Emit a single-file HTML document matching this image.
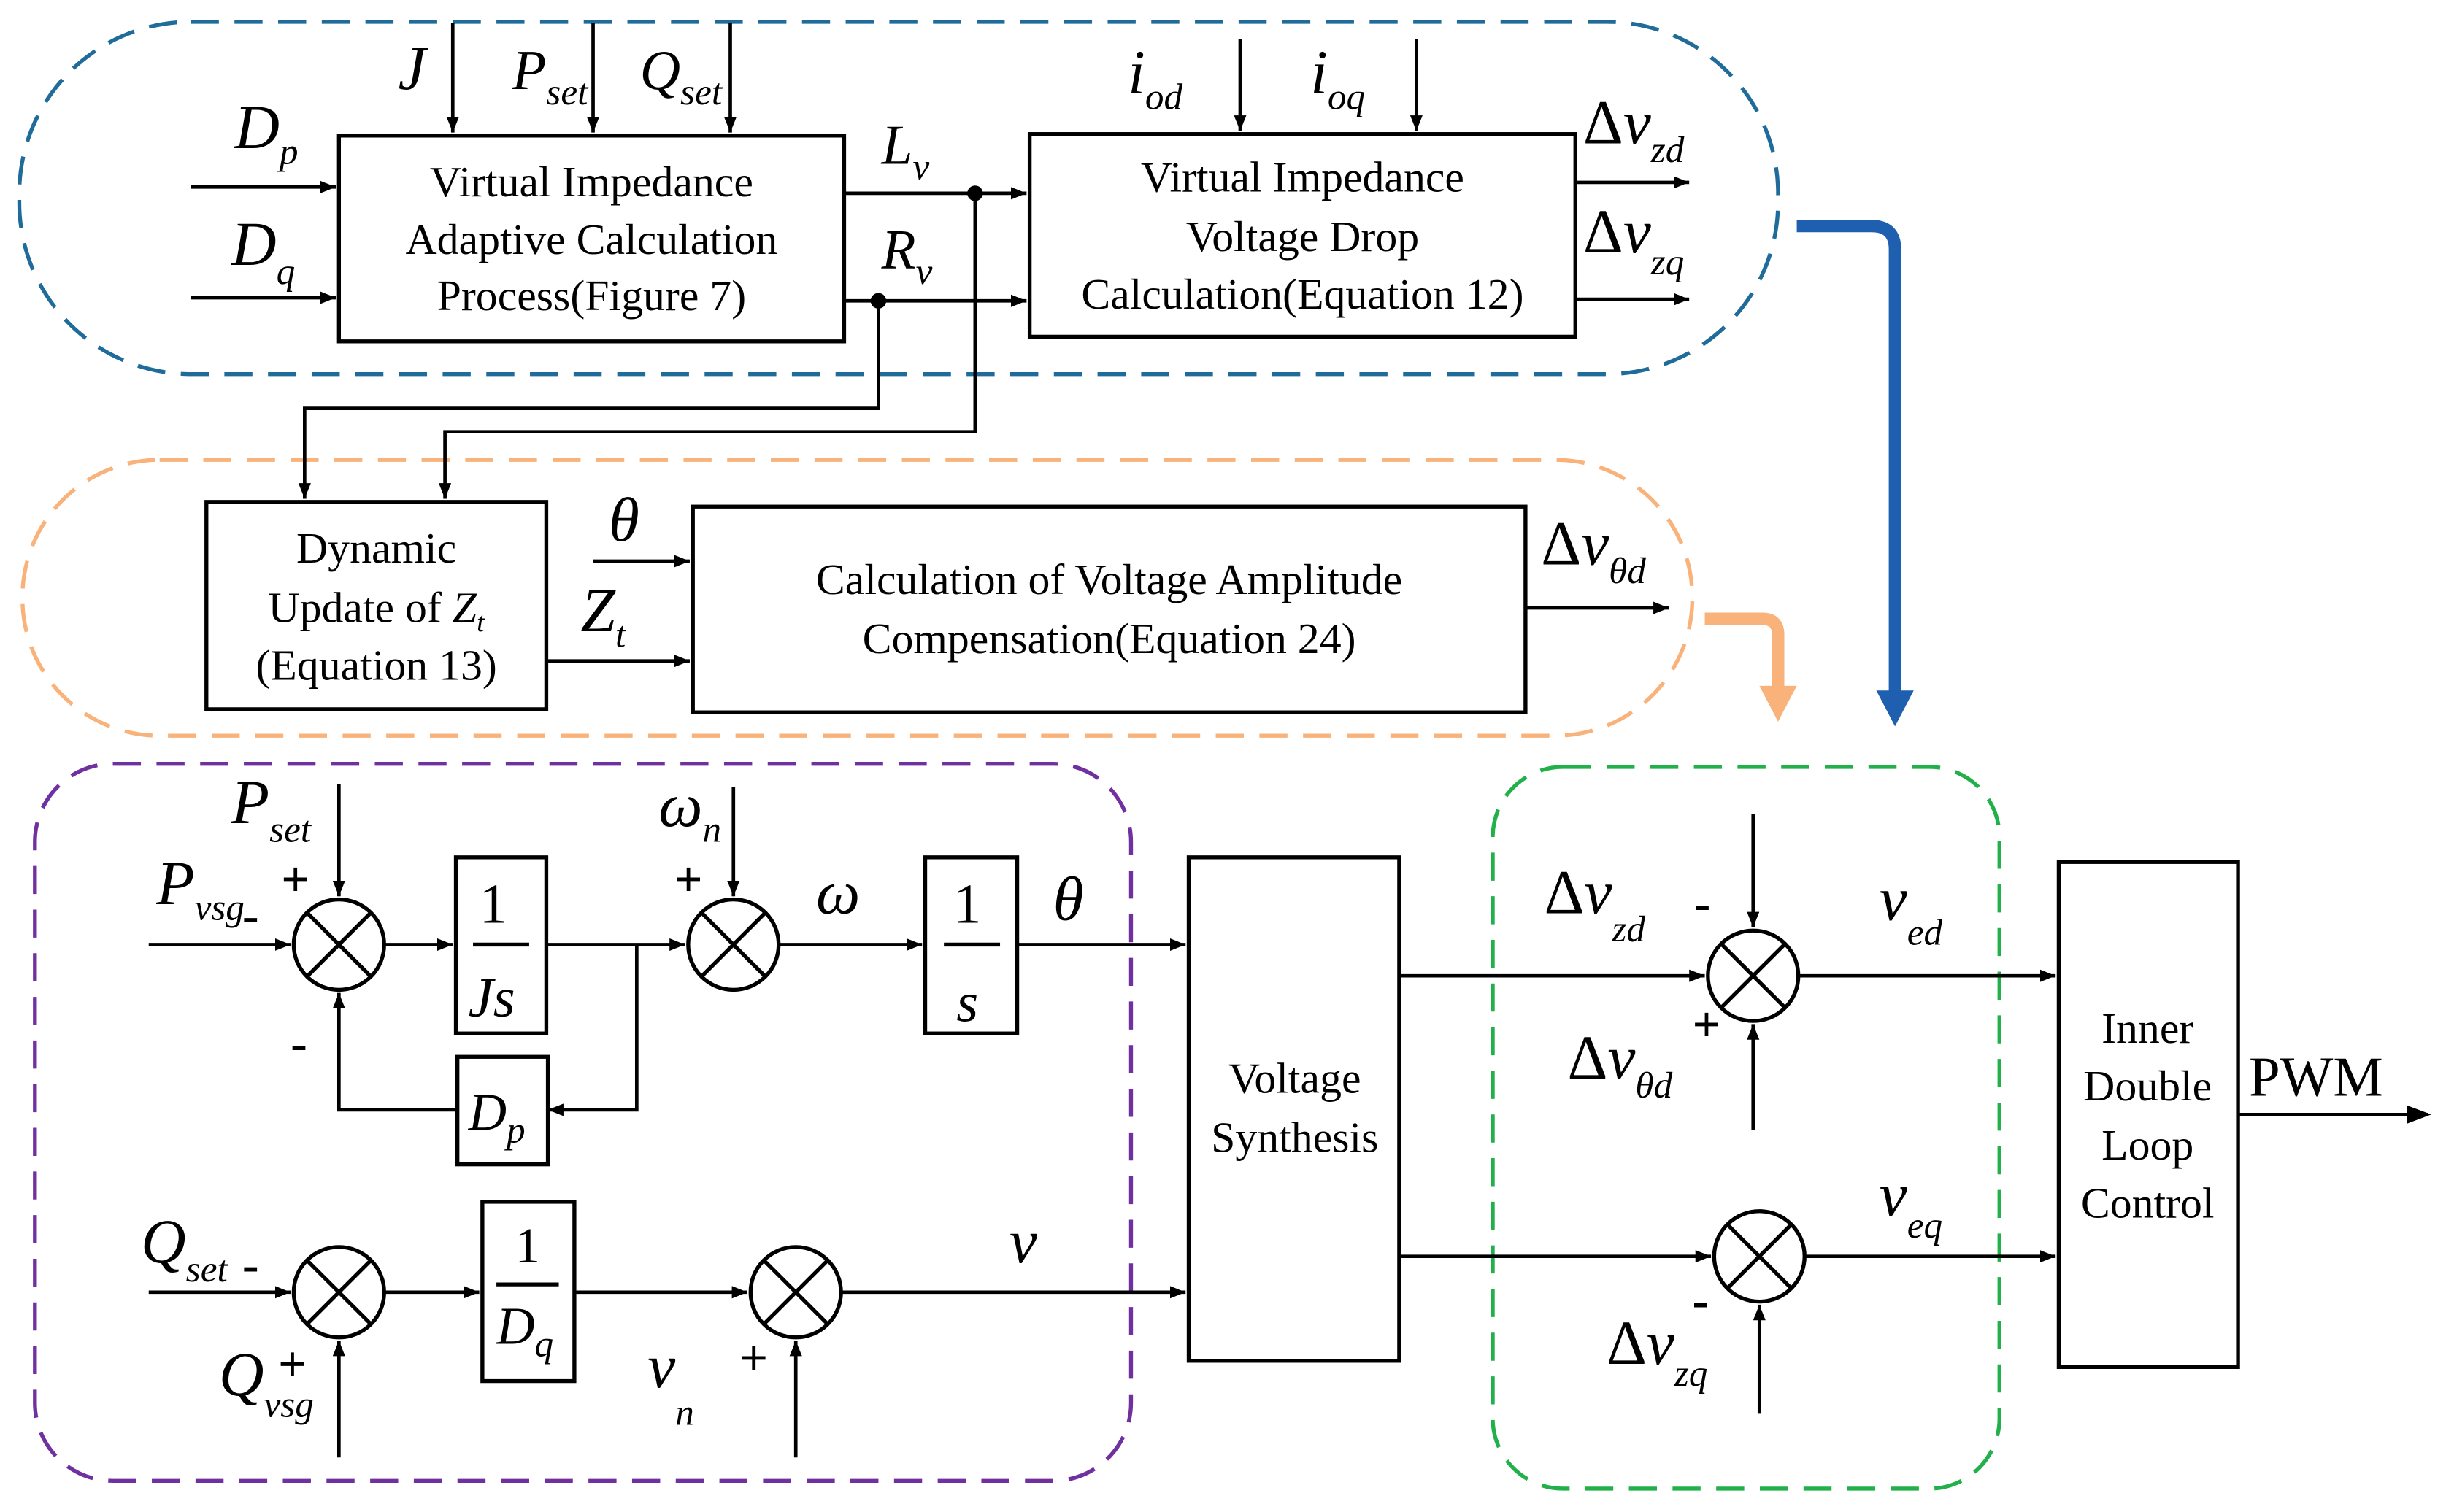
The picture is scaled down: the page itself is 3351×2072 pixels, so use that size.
<!DOCTYPE html>
<html><head><meta charset="utf-8"><style>
html,body{margin:0;padding:0;background:#fff;}
svg{display:block;font-family:"Liberation Serif","DejaVu Serif",serif;}
text,tspan{font-family:"Liberation Serif","DejaVu Serif",serif;fill:#000;}
.b{font-size:28px;}
.m{font-size:40px;font-style:italic;}
.s{font-size:24px;font-style:italic;}
</style></head><body>
<svg width="3351" height="2072" viewBox="0 0 1568 970" xmlns="http://www.w3.org/2000/svg" font-family="Liberation Serif, serif">
<defs>
<marker id="a" markerWidth="10" markerHeight="8" refX="10" refY="4" orient="auto" markerUnits="userSpaceOnUse" viewBox="0 0 10 8"><path d="M0,0 L10,4 L0,8 Z" fill="#000"/></marker>
<marker id="a2" markerWidth="16" markerHeight="12" refX="14" refY="6" orient="auto" markerUnits="userSpaceOnUse" viewBox="0 0 16 12"><path d="M0,0 L16,6 L0,12 Z" fill="#000"/></marker>
</defs>
<g fill="none" stroke-width="2.5" stroke-dasharray="18,10">
<rect x="12" y="14" width="1128" height="226" rx="110" stroke="#1f6b9a"/>
<rect x="14" y="295" width="1071" height="177" rx="88" stroke="#f8b27a"/>
<rect x="22" y="490" width="703" height="460" rx="50" stroke="#7030a0"/>
<rect x="957" y="492" width="325" height="463" rx="45" stroke="#22b04a"/>
</g>
<path d="M1152,145 H1200 Q1215,145 1215,160 V445" fill="none" stroke="#1f5fb0" stroke-width="8"/>
<path d="M1203,443 L1227,443 L1215,466 Z" fill="#1f5fb0"/>
<path d="M1093,397 H1130 Q1140,397 1140,407 V442" fill="none" stroke="#f8b27a" stroke-width="8"/>
<path d="M1128,440 L1152,440 L1140,463 Z" fill="#f8b27a"/>
<g fill="none" stroke="#000" stroke-width="2.5">
<rect x="217" y="87" width="324" height="132"/>
<rect x="660" y="86" width="350" height="130"/>
<rect x="132" y="322" width="218" height="133"/>
<rect x="444" y="325" width="534" height="132"/>
<rect x="292" y="550" width="58" height="113"/>
<rect x="293" y="678" width="58" height="69"/>
<rect x="593" y="550" width="59" height="113"/>
<rect x="309" y="771" width="59" height="115"/>
<rect x="762" y="550" width="135" height="323"/>
<rect x="1320" y="553" width="115" height="324"/>
</g>
<g stroke="#000" stroke-width="2.2" fill="none" marker-end="url(#a)">
<path d="M122,120 H215"/><path d="M122,191 H215"/>
<path d="M290,15 V85"/><path d="M380,15 V85"/><path d="M468,15 V85"/>
<path d="M541,124 H658"/><path d="M541,193 H658"/>
<path d="M795,25 V84"/><path d="M908,25 V84"/>
<path d="M1010,117 H1083"/><path d="M1010,192 H1083"/>
<path d="M563,193 V262 H195 V320"/><path d="M625,124 V277 H285 V320"/>
<path d="M380,360 H442"/><path d="M350,424 H442"/>
<path d="M978,390 H1070"/>
<path d="M217,503 V575"/><path d="M95,606 H186"/><path d="M246,606 H290"/>
<path d="M350,606 H439"/><path d="M470,505 V575"/><path d="M499,606 H591"/>
<path d="M652,606 H760"/>
<path d="M408,606 V712 H351"/><path d="M293,712 H217 V637"/>
<path d="M95,829 H186"/><path d="M217,935 V860"/><path d="M246,829 H307"/>
<path d="M368,829 H479"/><path d="M510,935 V860"/><path d="M539,829 H760"/>
<path d="M897,626 H1093"/><path d="M1124,522 V595"/><path d="M1124,725 V657"/>
<path d="M1153,626 H1318"/>
<path d="M897,806 H1097"/><path d="M1128,907 V837"/><path d="M1157,806 H1318"/>
</g>
<path d="M1435,715 H1557" stroke="#000" stroke-width="2.2" marker-end="url(#a2)"/>
<circle cx="563" cy="193" r="5" fill="#000"/><circle cx="625" cy="124" r="5" fill="#000"/>
<g stroke="#000" stroke-width="2.5" fill="none">
<circle cx="217" cy="606" r="29"/><path d="M197,586 L237,626 M237,586 L197,626"/>
<circle cx="470" cy="606" r="29"/><path d="M450,586 L490,626 M490,586 L450,626"/>
<circle cx="217" cy="829" r="29"/><path d="M197,809 L237,849 M237,809 L197,849"/>
<circle cx="510" cy="829" r="29"/><path d="M490,809 L530,849 M530,809 L490,849"/>
<circle cx="1124" cy="626" r="29"/><path d="M1104,606 L1144,646 M1144,606 L1104,646"/>
<circle cx="1128" cy="806" r="29"/><path d="M1108,786 L1148,826 M1148,786 L1108,826"/>
<path d="M303,606 H339"/><path d="M605,606 H641"/><path d="M318,824 H358"/>
</g>
<g class="b" text-anchor="middle">
<text x="379" y="126">Virtual Impedance</text>
<text x="379" y="163">Adaptive Calculation</text>
<text x="379" y="199">Process(Figure 7)</text>
<text x="835" y="123">Virtual Impedance</text>
<text x="835" y="161">Voltage Drop</text>
<text x="835" y="198">Calculation(Equation 12)</text>
<text x="241" y="361">Dynamic</text>
<text x="241" y="399">Update of <tspan font-style="italic">Z</tspan><tspan font-size="18" font-style="italic" dy="6">t</tspan></text>
<text x="241" y="436">(Equation 13)</text>
<text x="711" y="381">Calculation of Voltage Amplitude</text>
<text x="711" y="419">Compensation(Equation 24)</text>
<text x="830" y="701">Voltage</text>
<text x="830" y="739">Synthesis</text>
<text x="1377" y="669">Inner</text>
<text x="1377" y="706">Double</text>
<text x="1377" y="744">Loop</text>
<text x="1377" y="781">Control</text>
</g>
<text x="1442" y="703" style="font-size:36px">PWM</text>
<g class="m">
<text x="150" y="95">D<tspan class="s" dy="10">p</tspan></text>
<text x="148" y="170">D<tspan class="s" dy="12">q</tspan></text>
<text x="255" y="57">J</text>
<text x="328" y="57" font-size="36">P<tspan class="s" font-size="20" dy="10">set</tspan></text>
<text x="410" y="57" font-size="36">Q<tspan class="s" font-size="20" dy="10">set</tspan></text>
<text x="565" y="105" font-size="36">L<tspan class="s" font-size="22" dy="10">v</tspan></text>
<text x="565" y="172" font-size="36">R<tspan class="s" font-size="22" dy="10">v</tspan></text>
<text x="723" y="60">i<tspan class="s" dy="10">od</tspan></text>
<text x="840" y="60">i<tspan class="s" dy="10">oq</tspan></text>
<text x="1015" y="92" font-style="normal">Δ<tspan font-style="italic">v</tspan><tspan class="s" dy="12">zd</tspan></text>
<text x="1015" y="162" font-style="normal">Δ<tspan font-style="italic">v</tspan><tspan class="s" dy="14">zq</tspan></text>
<text x="390" y="347">θ</text>
<text x="372" y="405">Z<tspan class="s" dy="10">t</tspan></text>
<text x="988" y="362" font-style="normal">Δ<tspan font-style="italic">v</tspan><tspan class="s" dy="12">θd</tspan></text>
<text x="148" y="528">P<tspan class="s" dy="12">set</tspan></text>
<text x="100" y="580">P<tspan class="s" dy="10">vsg</tspan></text>
<text x="422" y="530">ω<tspan class="s" dy="10">n</tspan></text>
<text x="523" y="586">ω</text>
<text x="675" y="590">θ</text>
<text x="90" y="810">Q<tspan class="s" dy="12">set</tspan></text>
<text x="140" y="895">Q<tspan class="s" dy="14">vsg</tspan></text>
<text x="415" y="890">v<tspan class="s" dy="24">n</tspan></text>
<text x="647" y="810">v</text>
<text x="990" y="586" font-style="normal">Δ<tspan font-style="italic">v</tspan><tspan class="s" dy="18">zd</tspan></text>
<text x="1005" y="692" font-style="normal">Δ<tspan font-style="italic">v</tspan><tspan class="s" dy="12">θd</tspan></text>
<text x="1205" y="590">v<tspan class="s" dy="16">ed</tspan></text>
<text x="1205" y="780">v<tspan class="s" dy="14">eq</tspan></text>
<text x="1030" y="875" font-style="normal">Δ<tspan font-style="italic">v</tspan><tspan class="s" dy="14">zq</tspan></text>
<text x="307" y="592" font-style="normal" font-size="36">1</text>
<text x="300" y="652" font-size="36">Js</text>
<text x="611" y="592" font-style="normal" font-size="36">1</text>
<text x="613" y="655" font-size="36">s</text>
<text x="330" y="810" font-style="normal" font-size="32">1</text>
<text x="318" y="862" font-size="34">D<tspan class="s" font-size="18" dy="8">q</tspan></text>
<text x="300" y="725" font-size="34">D<tspan class="s" font-size="18" dy="8">p</tspan></text>
</g>
<g style="font-size:32px;font-weight:bold">
<text x="180" y="575">+</text><text x="155" y="598">-</text><text x="186" y="680">-</text>
<text x="432" y="575">+</text>
<text x="155" y="822">-</text><text x="178" y="886">+</text>
<text x="474" y="882">+</text>
<text x="1086" y="590">-</text><text x="1085" y="668">+</text>
<text x="1085" y="845">-</text>
</g>
</svg>
</body></html>
